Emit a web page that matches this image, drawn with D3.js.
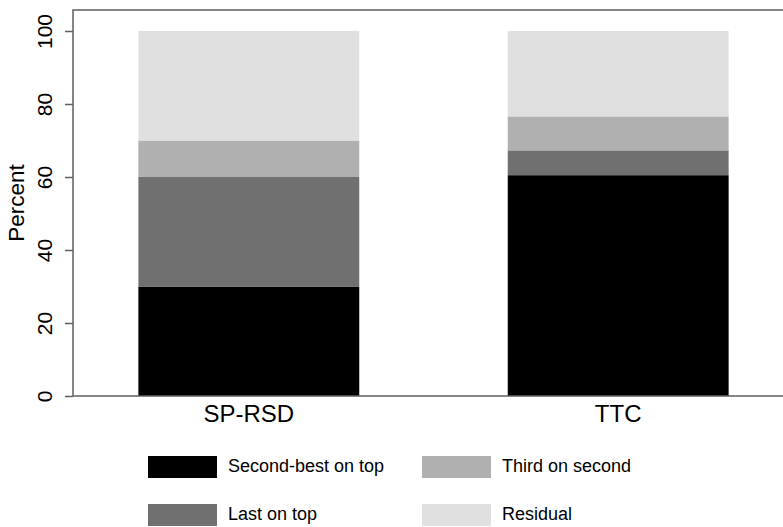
<!DOCTYPE html>
<html>
<head>
<meta charset="utf-8">
<script src="https://d3js.org/d3.v7.min.js"></script>
<style>
  body { margin: 0; background: #fff; }
  text { font-family: "Liberation Sans", Arial, Helvetica, sans-serif; fill: #000; }
</style>
</head>
<body>
<div id="chart"></div>
<script>
// chart data
var categories = ["SP-RSD", "TTC"];
var seriesNames = ["Second-best on top", "Last on top", "Third on second", "Residual"];
var secondBest = [30.0, 60.5];
var lastOnTop = [30.0, 6.8];
var thirdOnSecond = [10.0, 9.3];
var residual = [30.0, 23.4];
var yTicks = [0, 20, 40, 60, 80, 100];

var colors = ["#000000", "#707070", "#b0b0b0", "#e0e0e0"];

var svgWidth = 783;
var svgHeight = 527;

// plot region (right side runs off the page like in the original)
var plotLeft = 73, plotRight = 794, plotTop = 10, plotBottom = 396;

var svg = d3.select("#chart")
  .append("svg")
  .attr("width", svgWidth)
  .attr("height", svgHeight);

// build rows for stacking
var rows = categories.map(function(c, i) {
  return {
    category: c,
    "Second-best on top": secondBest[i],
    "Last on top": lastOnTop[i],
    "Third on second": thirdOnSecond[i],
    "Residual": residual[i]
  };
});
var stacked = d3.stack().keys(seriesNames)(rows);

var xScale = d3.scaleBand()
  .domain(categories)
  .range([plotLeft, plotRight])
  .paddingInner(0.402)
  .paddingOuter(0.177);

var yScale = d3.scaleLinear()
  .domain([0, 100])
  .range([plotBottom, 31]);

// bars
svg.append("g").selectAll("g")
  .data(stacked)
  .enter().append("g")
  .attr("fill", function(d, i) { return colors[i]; })
  .selectAll("rect")
  .data(function(d) { return d; })
  .enter().append("rect")
  .attr("x", function(d) { return xScale(d.data.category); })
  .attr("y", function(d) { return yScale(d[1]); })
  .attr("width", xScale.bandwidth())
  .attr("height", function(d) { return yScale(d[0]) - yScale(d[1]); });

// frame lines (top, left, bottom)
svg.append("path")
  .attr("d", "M" + plotRight + "," + plotTop + "H" + plotLeft + "V" + plotBottom + "H" + plotRight)
  .attr("fill", "none")
  .attr("stroke", "#5f5f5f")
  .attr("stroke-width", 1.5);

// y axis
var leftAxis = d3.axisLeft(yScale)
  .tickValues(yTicks)
  .tickSize(8)
  .tickPadding(0)
  .tickFormat(d3.format("d"));

var yAxisG = svg.append("g")
  .attr("transform", "translate(" + plotLeft + ",0)")
  .call(leftAxis);
yAxisG.select(".domain").remove();
yAxisG.selectAll(".tick line").attr("stroke", "#5f5f5f").attr("stroke-width", 1.5);
// rotated tick labels, centred on the tick
yAxisG.selectAll(".tick text")
  .attr("transform", "rotate(-90)")
  .attr("x", 0)
  .attr("y", -27)
  .attr("dy", 0)
  .attr("text-anchor", "middle")
  .attr("dominant-baseline", "middle")
  .style("font-size", "21px");

// x category labels
var bottomAxis = d3.axisBottom(xScale).tickSize(0).tickPadding(9);
var xAxisG = svg.append("g")
  .attr("transform", "translate(0," + plotBottom + ")")
  .call(bottomAxis);
xAxisG.select(".domain").remove();
xAxisG.selectAll(".tick text")
  .attr("dy", "0.71em")
  .style("font-size", "24px");

// y axis title
svg.append("text")
  .attr("transform", "rotate(-90)")
  .attr("x", -203)
  .attr("y", 18)
  .attr("text-anchor", "middle")
  .attr("dominant-baseline", "middle")
  .style("font-size", "22.5px")
  .text("Percent");

// legend: two columns, order follows the original key
var legendOrder = [0, 2, 1, 3];
var legend = svg.selectAll(".legendItem")
  .data(legendOrder)
  .enter().append("g")
  .attr("class", "legendItem")
  .attr("transform", function(d, i) {
    var col = i % 2, row = Math.floor(i / 2);
    return "translate(" + (148 + col * 274) + "," + (456 + row * 48) + ")";
  });

legend.append("rect")
  .attr("width", 69)
  .attr("height", 22)
  .attr("fill", function(d) { return colors[d]; });

legend.append("text")
  .attr("x", 80)
  .attr("y", 11)
  .attr("dominant-baseline", "middle")
  .style("font-size", "18px")
  .text(function(d) { return seriesNames[d]; });
</script>
</body>
</html>
